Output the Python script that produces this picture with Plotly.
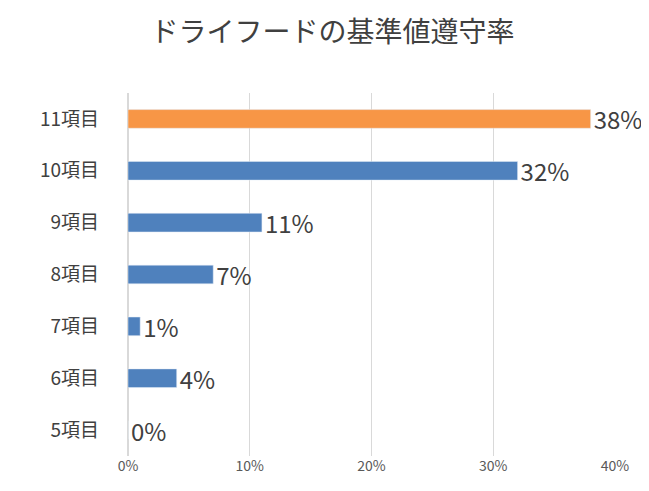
import plotly.graph_objects as go

# データ
categories = ['5項目', '6項目', '7項目', '8項目', '9項目', '10項目', '11項目']
rates = [0, 4, 1, 7, 11, 32, 38]
labels = ['0%', '4%', '1%', '7%', '11%', '32%', '38%']
colors = ['#4F81BD'] * 6 + ['#F79646']

fig = go.Figure(go.Bar(
    x=rates,
    y=categories,
    orientation='h',
    marker=dict(color=colors),
    width=0.36,
    text=labels,
    textposition='outside',
    constraintext='none',
    textfont=dict(size=24, color='#404040'),
    cliponaxis=False,
))

fig.update_layout(
    title=dict(text='ドライフードの基準値遵守率', x=0.5, y=0.95, xanchor='center',
               yanchor='middle', font=dict(size=28, color='#404040')),
    width=649, height=491,
    margin=dict(l=120, r=42, t=85, b=43, autoexpand=False),
    paper_bgcolor='white', plot_bgcolor='white',
    font=dict(family='Noto Sans CJK JP'),
    showlegend=False,
)
fig.update_xaxes(range=[0, 40], dtick=10, ticksuffix='%', showgrid=True,
                 gridcolor='#D9D9D9', zeroline=True, zerolinecolor='#D9D9D9',
                 tickfont=dict(size=14, color='#595959'), automargin=False)
fig.update_yaxes(tickfont=dict(size=19, color='#404040'), ticklabelstandoff=28,
                 automargin=False)

fig.write_html("out.html")
